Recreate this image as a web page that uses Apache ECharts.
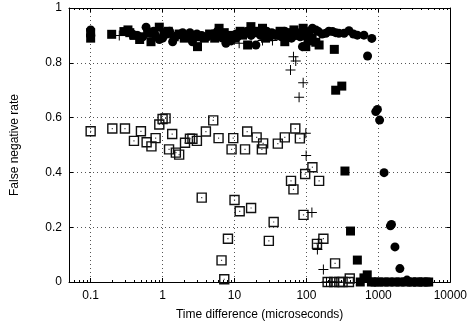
<!DOCTYPE html>
<html>
<head>
<meta charset="utf-8">
<script src="https://cdn.jsdelivr.net/npm/echarts@6/dist/echarts.min.js"></script>
<style>
  html, body { margin: 0; padding: 0; background: #fff; }
  #chart { width: 470px; height: 328px; }
</style>
</head>
<body>
<div id="chart"></div>
<script>
// filled circles: [time difference (us), false negative rate]
const circlePoints = [
  [0.1, 0.90], [0.1, 0.92], [0.38, 0.905], [0.45, 0.90], [0.53, 0.895], [0.59, 0.93],
  [0.69, 0.908], [0.75, 0.915], [0.8, 0.90], [0.9, 0.885], [1.0, 0.89], [1.15, 0.905],
  [1.25, 0.915], [1.38, 0.877], [1.6, 0.90], [1.9, 0.91], [2.2, 0.895], [2.4, 0.91],
  [2.6, 0.877], [3.0, 0.905], [3.5, 0.90], [4.2, 0.895], [5, 0.905], [5.8, 0.915],
  [6.8, 0.89], [7.6, 0.871], [9, 0.88], [10.5, 0.905], [11, 0.895], [13, 0.91],
  [15, 0.915], [17, 0.90], [19.8, 0.865], [23, 0.90], [26, 0.91], [28, 0.915],
  [33, 0.91], [37, 0.90], [40, 0.90], [45, 0.895], [50, 0.915], [55, 0.905],
  [62, 0.89], [68, 0.905], [75, 0.91], [82, 0.895], [88, 0.859], [100, 0.90],
  [110, 0.915], [121, 0.926], [135, 0.92], [147, 0.914], [165, 0.905], [186, 0.908],
  [205, 0.915], [231, 0.914], [255, 0.91], [282, 0.908], [334, 0.908], [390, 0.917],
  [450, 0.905], [510, 0.901], [630, 0.901], [707, 0.825], [810, 0.889], [920, 0.622],
  [970, 0.63], [1040, 0.591], [1200, 0.399], [1470, 0.205], [1520, 0.21], [1700, 0.128],
  [1990, 0.049], [2500, 0.007], [2800, 0], [3200, 0], [3600, 0], [4000, 0],
  [4500, 0], [5000, 0]
]

// filled squares
const squarePoints = [
  [0.1, 0.89], [0.1, 0.91], [0.196, 0.904], [0.29, 0.914], [0.33, 0.92], [0.35, 0.91],
  [0.4, 0.90], [0.48, 0.885], [0.62, 0.91], [0.69, 0.877], [0.9, 0.93], [1.05, 0.91],
  [1.2, 0.915], [1.45, 0.895], [1.7, 0.905], [2.0, 0.89], [2.8, 0.90], [3.06, 0.859],
  [3.3, 0.895], [3.8, 0.89], [4.5, 0.905], [5.3, 0.89], [6.1, 0.926], [7.2, 0.91],
  [8.5, 0.90], [10, 0.89], [12, 0.915], [12.9, 0.901], [15.2, 0.865], [16.9, 0.932],
  [19, 0.915], [21, 0.91], [24.5, 0.926], [27, 0.89], [30, 0.895], [37, 0.905],
  [43, 0.915], [50, 0.877], [58, 0.91], [67, 0.92], [80, 0.90], [90, 0.926],
  [98, 0.859], [105, 0.88], [120, 0.89], [135, 0.875], [150, 0.865], [244, 0.849],
  [255, 0.70], [310, 0.715], [343, 0.405], [410, 0.186], [510, 0.08], [630, 0.015],
  [700, 0.026], [560, 0], [800, 0], [900, 0], [1000, 0], [1200, 0], [1400, 0],
  [1700, 0], [2000, 0], [2400, 0], [2900, 0], [3500, 0], [4200, 0], [5000, 0]
]

// plus signs
const plusPoints = [
  [0.25, 0.90], [0.35, 0.905], [1.5, 0.90], [5.5, 0.90], [11.6, 0.871], [24.5, 0.881],
  [33.7, 0.881], [60, 0.774], [66, 0.822], [71, 0.807], [79, 0.674], [90, 0.727],
  [98, 0.543], [99, 0.462], [119, 0.254], [142, 0.119], [146, 0.141], [172, 0.046],
  [190, 0], [220, 0], [260, 0]
]

// open squares
const openSquarePoints = [
  [0.1, 0.55], [0.2, 0.56], [0.3, 0.56], [0.4, 0.515], [0.5, 0.55], [0.6, 0.51],
  [0.7, 0.495], [0.8, 0.525], [0.9, 0.575], [1.0, 0.595], [1.1, 0.597], [1.23, 0.484],
  [1.36, 0.54], [1.53, 0.472], [1.7, 0.465], [2.05, 0.508], [2.4, 0.523], [2.6, 0.523],
  [3.0, 0.515], [4.0, 0.549], [5.06, 0.59], [6.0, 0.525], [9.1, 0.484], [9.6, 0.525],
  [14, 0.484], [15, 0.549], [20.3, 0.528], [24, 0.484], [25, 0.506], [40, 0.505],
  [50, 0.528], [70, 0.56], [81, 0.524], [3.5, 0.308], [6.6, 0.079], [8.1, 0.158],
  [7.2, 0.01], [10, 0.299], [11.8, 0.258], [17, 0.27], [35, 0.219], [30, 0.15],
  [61, 0.369], [66, 0.338], [96, 0.394], [121, 0.419], [150, 0.369], [91, 0.245],
  [140, 0.139], [172, 0.158], [250, 0.068], [400, 0.013], [197, 0], [243, 0],
  [286, 0], [318, 0], [390, 0]
]

const xMajorTicks = [0.1, 1, 10, 100, 1000, 10000]
const xMinorTicks = []
for (const d of [0.01, 0.1, 1, 10, 100, 1000]) {
  for (let k = 2; k <= 9; k++) {
    const v = +(d * k).toPrecision(3)
    if (v > 0.05 && v < 10000) xMinorTicks.push(v)
  }
}

const font = "Liberation Sans, Arial, Helvetica, sans-serif"
const plusPath = "path://M4.5,0h1v4.5h4.5v1h-4.5v4.5h-1v-4.5h-4.5v-1h4.5z"

const chart = echarts.init(document.getElementById("chart"))

const baseX = {
  type: "log",
  logBase: 10,
  min: 0.05,
  max: 10000,
  axisLine: { show: false },
  axisLabel: { show: false },
  splitLine: { show: false },
}

const option = {
  animation: false,
  grid: { left: 69, right: 19, top: 8, bottom: 46 },
  xAxis: [
    {
      ...baseX,
      position: "bottom",
      name: "Time difference (microseconds)",
      nameLocation: "middle",
      nameGap: 27,
      nameTextStyle: { fontFamily: font, fontSize: 12, color: "#000" },
      axisLine: { show: true, lineStyle: { color: "#000", width: 1 } },
      axisTick: { inside: true, length: 4, customValues: xMajorTicks, lineStyle: { color: "#000" } },
      axisLabel: {
        show: true,
        customValues: xMajorTicks,
        margin: 8,
        fontFamily: font,
        fontSize: 12,
        color: "#000",
        formatter: (v) => String(+(+v).toPrecision(6)),
      },
      splitLine: { show: true, lineStyle: { color: "#555", type: [1, 3], width: 1 } },
    },
    {
      ...baseX,
      position: "bottom",
      axisTick: { inside: true, length: 2, customValues: xMinorTicks, lineStyle: { color: "#000" } },
    },
    {
      ...baseX,
      position: "top",
      axisLine: { show: true, lineStyle: { color: "#000", width: 1 } },
      axisTick: { inside: true, length: 4, customValues: xMajorTicks, lineStyle: { color: "#000" } },
    },
    {
      ...baseX,
      position: "top",
      axisTick: { inside: true, length: 2, customValues: xMinorTicks, lineStyle: { color: "#000" } },
    },
  ],
  yAxis: [
    {
      type: "value",
      min: 0,
      max: 1,
      interval: 0.2,
      position: "left",
      name: "False negative rate",
      nameLocation: "middle",
      nameGap: 48,
      nameTextStyle: { fontFamily: font, fontSize: 12, color: "#000" },
      axisLine: { show: true, lineStyle: { color: "#000", width: 1 } },
      axisTick: { inside: true, length: 4, lineStyle: { color: "#000" } },
      axisLabel: { margin: 7, fontFamily: font, fontSize: 12, color: "#000" },
      splitLine: { show: true, lineStyle: { color: "#555", type: [1, 3], width: 1 } },
    },
    {
      type: "value",
      min: 0,
      max: 1,
      interval: 0.2,
      position: "right",
      axisLine: { show: true, lineStyle: { color: "#000", width: 1 } },
      axisTick: { inside: true, length: 4, lineStyle: { color: "#000" } },
      axisLabel: { show: false },
      splitLine: { show: false },
    },
  ],
  series: [
    {
      type: "scatter",
      name: "open squares",
      data: openSquarePoints,
      symbol: "rect",
      symbolSize: 9,
      itemStyle: { color: "rgba(255,255,255,0)", borderColor: "#111", borderWidth: 1.4, opacity: 1 },
      z: 2,
    },
    {
      type: "scatter",
      name: "open squares (dot)",
      data: openSquarePoints,
      symbol: "rect",
      symbolSize: 1.2,
      itemStyle: { color: "#444", opacity: 1 },
      z: 2,
    },
    {
      type: "scatter",
      name: "circles",
      data: circlePoints,
      symbol: "circle",
      symbolSize: 9,
      itemStyle: { color: "#000", opacity: 1 },
      z: 3,
    },
    {
      type: "scatter",
      name: "squares",
      data: squarePoints,
      symbol: "rect",
      symbolSize: 9,
      itemStyle: { color: "#000", opacity: 1 },
      z: 3,
    },
    {
      type: "scatter",
      name: "plus",
      data: plusPoints,
      symbol: plusPath,
      symbolSize: 10,
      itemStyle: { color: "#000", opacity: 1 },
      z: 4,
    },
  ],
}

chart.setOption(option)
</script>
</body>
</html>
